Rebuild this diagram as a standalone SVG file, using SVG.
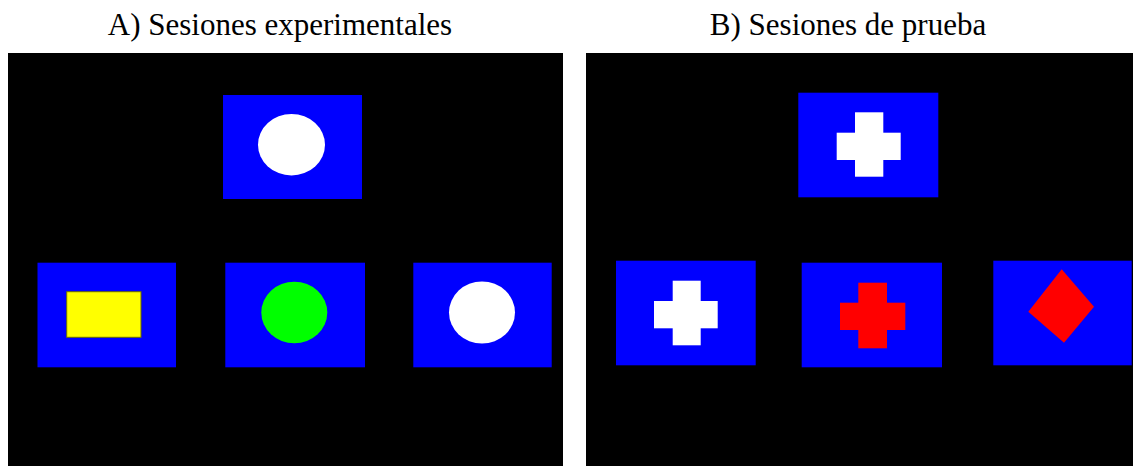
<svg xmlns="http://www.w3.org/2000/svg" width="1133" height="466" viewBox="0 0 1133 466">
  <style>
    .title { font-family: "Liberation Serif", "Times New Roman", serif; font-size: 31px; fill: #000; text-anchor: middle; }
    .panel { fill: #000; }
    .card { fill: #0000FF; }
    .white { fill: #FFFFFF; }
    .red { fill: #FF0000; }
  </style>
  <rect x="0" y="0" width="1133" height="466" fill="#FFFFFF"/>

  <g id="panelA">
    <text class="title" x="280" y="35">A) Sesiones experimentales</text>
    <rect class="panel" x="8" y="53" width="555" height="413"/>
  </g>
  <g id="panelB">
    <text class="title" x="848" y="35">B) Sesiones de prueba</text>
    <rect class="panel" x="586" y="53" width="547" height="413"/>
  </g>

  <g id="A-sample">
    <rect class="card" x="223" y="95" width="139" height="104"/>
    <ellipse class="white" cx="291.5" cy="144.7" rx="33.5" ry="30.7"/>
  </g>
  <g id="A-choice-yellow">
    <rect class="card" x="37.5" y="262.7" width="138.5" height="104.6"/>
    <rect x="66.7" y="291.7" width="74.3" height="45.6" fill="#FFFF00" stroke="#6b6b00" stroke-width="1"/>
  </g>
  <g id="A-choice-green">
    <rect class="card" x="225.3" y="262.7" width="139.7" height="104.6"/>
    <ellipse cx="294.3" cy="312.5" rx="33" ry="30.8" fill="#00FF00"/>
  </g>
  <g id="A-choice-white">
    <rect class="card" x="413.3" y="262.7" width="138.4" height="104.6"/>
    <ellipse class="white" cx="482" cy="312.5" rx="33" ry="31"/>
  </g>

  <g id="B-sample">
    <rect class="card" x="798.3" y="92.7" width="140" height="104.6"/>
    <rect class="white" x="855" y="112.3" width="28.3" height="64.4"/>
    <rect class="white" x="836.7" y="132.7" width="64" height="27.3"/>
  </g>
  <g id="B-choice-white-cross">
    <rect class="card" x="616" y="260.7" width="139.7" height="104.6"/>
    <rect class="white" x="672.7" y="280.7" width="28" height="64.6"/>
    <rect class="white" x="654" y="301" width="63.7" height="27.3"/>
  </g>
  <g id="B-choice-red-cross">
    <rect class="card" x="801.7" y="262.7" width="140.3" height="104.6"/>
    <rect class="red" x="858.3" y="282.7" width="28.7" height="65.6"/>
    <rect class="red" x="840" y="302.7" width="65.3" height="27.3"/>
  </g>
  <g id="B-choice-red-diamond">
    <rect class="card" x="993.3" y="260.7" width="138.4" height="104.6"/>
    <polygon class="red" points="1061.7,269.3 1094,306.7 1064,342.7 1028.3,311.7"/>
  </g>
</svg>
